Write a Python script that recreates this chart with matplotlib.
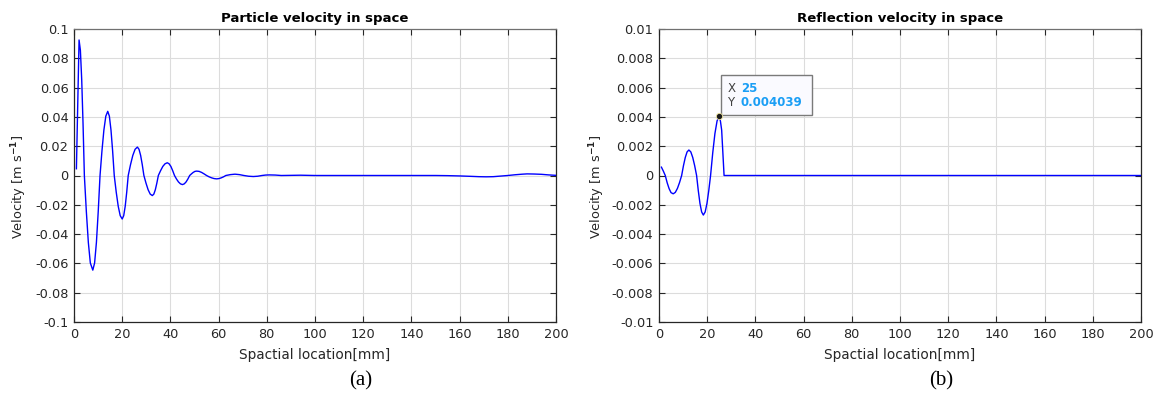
import matplotlib
matplotlib.use("Agg")
import matplotlib.pyplot as plt
from matplotlib.patches import Rectangle

plt.rcParams['font.family'] = ['DejaVu Sans']

# ---- data (a): particle velocity in space ----
x_a = [1.0, 2.1, 2.65, 3.2, 3.75, 4.3, 5.125, 5.95, 6.775, 7.8, 8.55, 9.3, 10.05, 10.8,
       11.6, 12.4, 13.2, 14.0, 14.675, 15.35, 16.025, 16.7, 17.525, 18.35, 19.175, 20.0,
       20.625, 21.25, 21.875, 22.5, 23.45, 24.4, 25.35, 26.3, 26.975, 27.65, 28.325, 29.0,
       29.875, 30.75, 31.625, 32.5, 33.125, 33.75, 34.375, 35.0, 35.925, 36.85, 37.775, 38.7,
       39.45, 40.2, 40.95, 41.7, 42.525, 43.35, 44.175, 45.0, 45.75, 46.5, 47.25, 48.0,
       48.725, 49.45, 50.175, 50.9, 51.925, 52.95, 53.975, 55.0, 56.05, 57.1, 58.15, 59.2,
       60.15, 61.1, 62.05, 63.0, 64.9, 66.8, 68.65, 70.5, 72.45, 74.4, 76.2, 78.0, 79.5,
       81.0, 83.5, 86.0, 90.0, 94.0, 97.0, 100.0, 110.0, 120.0, 130.0, 140.0, 150.0, 155.0,
       160.0, 165.0, 168.0, 171.0, 174.0, 177.0, 180.0, 183.0, 186.0, 188.0, 191.0, 194.0,
       197.0, 200.0]
v_a = [0.0046, 0.0925, 0.0855, 0.0654, 0.0354, 0.0, -0.0247, -0.0457, -0.0597, -0.0646,
       -0.0597, -0.0457, -0.0247, 0.0, 0.0168, 0.031, 0.0405, 0.0438, 0.0405, 0.031, 0.0168,
       0.0, -0.0114, -0.021, -0.0274, -0.0297, -0.0274, -0.021, -0.0114, 0.0, 0.0074, 0.0137,
       0.0179, 0.0194, 0.0179, 0.0137, 0.0074, 0.0, -0.0052, -0.0097, -0.0127, -0.0137,
       -0.0127, -0.0097, -0.0052, 0.0, 0.0033, 0.0062, 0.0080, 0.0087, 0.0080, 0.0062,
       0.0033, 0.0, -0.0024, -0.0044, -0.0057, -0.0062, -0.0057, -0.0044, -0.0024, 0.0,
       0.0011, 0.0021, 0.0028, 0.0030, 0.0028, 0.0021, 0.0011, 0.0, -0.0009, -0.0016,
       -0.0021, -0.0023, -0.0021, -0.0016, -0.0009, 0.0, 0.0006, 0.0009, 0.0006, 0.0,
       -0.0005, -0.0007, -0.0005, 0.0, 0.0003, 0.0004, 0.0003, 0.0, 0.0001, 0.0002, 0.0001,
       0.0, 0.0, 0.0, 0.0, 0.0, 0.0, -0.0001, -0.0003, -0.0006, -0.0008, -0.0009, -0.0008,
       -0.0004, 0.0, 0.0005, 0.0009, 0.0011, 0.0010, 0.0008, 0.0004, 0.0001]

# ---- data (b): reflection velocity in space ----
x_b = [1.0, 1.8, 2.6, 3.4, 4.2, 5.0, 5.9, 6.775, 7.65, 8.525, 9.4, 10.15, 10.9, 11.65,
       12.4, 13.2, 14.0, 14.8, 15.6, 16.3, 17.0, 17.7, 18.4, 19.15, 19.9, 20.65, 21.4,
       22.3, 23.2, 24.1, 25.0, 25.5, 26.0, 27.0, 30.0, 60.0, 100.0, 150.0, 200.0]
v_b = [0.00057, 0.0003, 0.0, -0.0005, -0.0009, -0.00117, -0.00125, -0.00115, -0.00088,
       -0.00048, 0.0, 0.00067, 0.00123, 0.00161, 0.00174, 0.00161, 0.00123, 0.00067, 0.0,
       -0.00103, -0.00191, -0.00249, -0.0027, -0.00249, -0.00191, -0.00103, 0.0, 0.00155,
       0.00286, 0.00373, 0.004039, 0.0037, 0.0031, 0.0, 0.0, 0.0, 0.0, 0.0, 0.0]

tip_x = 25
tip_y = 0.004039

yticks_a = [-0.1, -0.08, -0.06, -0.04, -0.02, 0, 0.02, 0.04, 0.06, 0.08, 0.1]
ylabels_a = ['-0.1', '-0.08', '-0.06', '-0.04', '-0.02', '0', '0.02', '0.04', '0.06', '0.08', '0.1']
yticks_b = [-0.01, -0.008, -0.006, -0.004, -0.002, 0, 0.002, 0.004, 0.006, 0.008, 0.01]
ylabels_b = ['-0.01', '-0.008', '-0.006', '-0.004', '-0.002', '0', '0.002', '0.004', '0.006', '0.008', '0.01']
xticks = [0, 20, 40, 60, 80, 100, 120, 140, 160, 180, 200]

titles = ['Particle velocity in space', 'Reflection velocity in space']
xlabel = 'Spactial location[mm]'
ylabel = 'Velocity [m s$^{\\mathbf{-1}}$]'
panel_labels = ['(a)', '(b)']

fig = plt.figure(figsize=(11.57, 3.94), dpi=100)
W, H = 1157, 394
axw = 482 / W
axh = (322 - 29) / H
bot = 1 - 322 / H
ax1 = fig.add_axes([74 / W, bot, axw, axh])
ax2 = fig.add_axes([659 / W, bot, axw, axh])

txt_col = '#262626'
for ax, xs, vs, yt, yl, ttl, ylx in [(ax1, x_a, v_a, yticks_a, ylabels_a, titles[0], -0.093),
                                      (ax2, x_b, v_b, yticks_b, ylabels_b, titles[1], -0.108)]:
    ax.plot(xs, vs, color='#0000ff', lw=1.0, zorder=3)
    ax.set_xlim(0, 200)
    ax.set_ylim(yt[0], yt[-1])
    ax.set_xticks(xticks)
    ax.set_yticks(yt)
    ax.set_yticklabels(yl)
    ax.grid(True, color='#dcdcdc', lw=0.8)
    ax.set_axisbelow(True)
    ax.tick_params(direction='in', length=4, width=0.8, top=True, right=True,
                   labelsize=9.3, colors='#262626', labelcolor=txt_col, pad=4)
    for s in ax.spines.values():
        s.set_color('#262626')
        s.set_linewidth(0.9)
    ax.spines['top'].set_color('#707070')
    ax.set_title(ttl, fontsize=9.5, fontweight='bold', color='black', pad=5)
    ax.set_xlabel(xlabel, fontsize=9.8, color=txt_col, labelpad=5)
    ax.set_ylabel(ylabel, fontsize=9.3, color=txt_col)
    ax.yaxis.set_label_coords(ylx, 0.46)

# data tip on (b)
ax2.add_patch(Rectangle((25.7, 0.00411), 37.8, 0.00274, facecolor='#fafaff',
                        edgecolor='#7a7a7a', lw=1.0, zorder=5, clip_on=False))
ax2.plot([tip_x], [tip_y], 'o', color='#1a1a1a', markersize=4.5,
         markeredgecolor='#f0e6a0', markeredgewidth=0.6, zorder=6)
ax2.text(28.4, 0.00597, 'X', fontsize=8.5, color='#404040', va='center', zorder=6)
ax2.text(34.0, 0.00597, f'{tip_x}', fontsize=8.5, color='#1a9ef5', fontweight='bold',
         va='center', zorder=6)
ax2.text(28.4, 0.00497, 'Y', fontsize=8.5, color='#404040', va='center', zorder=6)
ax2.text(34.0, 0.00497, f'{tip_y:.6f}', fontsize=8.5, color='#1a9ef5', fontweight='bold',
         va='center', zorder=6)

fig.text(361 / W, 1 - 381 / H, panel_labels[0], fontsize=15, family='Liberation Serif',
         ha='center', va='center', color='black')
fig.text(941 / W, 1 - 381 / H, panel_labels[1], fontsize=15, family='Liberation Serif',
         ha='center', va='center', color='black')

fig.savefig('out.png', dpi=100)
